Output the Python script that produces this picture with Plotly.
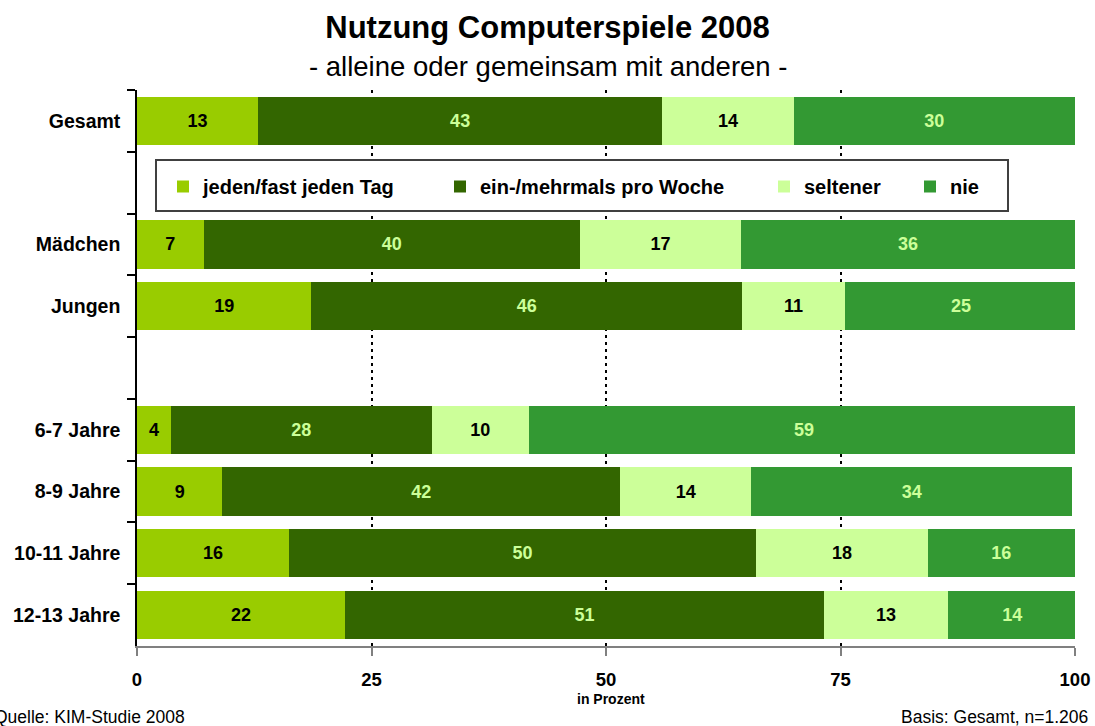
import plotly.graph_objects as go

# ---- data ----
categories = ["Gesamt", " ", "Mädchen", "Jungen", "  ",
              "6-7 Jahre", "8-9 Jahre", "10-11 Jahre", "12-13 Jahre"]
series_names = ["jeden/fast jeden Tag", "ein-/mehrmals pro Woche", "seltener", "nie"]
taeglich = [12.9, None, 7.1, 18.6, None, 3.6, 9.1, 16.2, 22.2]
woechentlich = [43.1, None, 40.1, 45.9, None, 27.8, 42.4, 49.8, 51.0]
seltener = [14.0, None, 17.2, 11.0, None, 10.4, 14.0, 18.3, 13.3]
nie = [30.0, None, 35.6, 24.7, None, 58.6, 34.2, 15.7, 13.6]
x_ticks = [0, 25, 50, 75, 100]

series_values = [taeglich, woechentlich, seltener, nie]
colors = ["#99CC00", "#336600", "#CCFF99", "#339933"]
text_colors = ["#000000", "#CCFF99", "#000000", "#CCFF99"]

FONT = "Liberation Sans, Arial, sans-serif"

fig = go.Figure()
legend_ids = ["legend", "legend2", "legend3", "legend4"]
for name, vals, col, tcol, lid in zip(series_names, series_values, colors, text_colors, legend_ids):
    fig.add_trace(go.Bar(
        name=name, y=categories, x=vals, orientation="h",
        marker=dict(color=col, line=dict(width=0)),
        texttemplate="%{x:.0f}", textposition="inside", insidetextanchor="middle",
        textangle=0, constraintext="none",
        textfont=dict(family=FONT, size=18, color=tcol, weight="bold"),
        hoverinfo="skip", legend=lid,
    ))

# plot area geometry in pixels: left 137, right 1075, top 90, bottom 646
L, R, T, B = 137, 1075, 90, 646
W, H = R - L, B - T
def px(xp):
    return (xp - L) / W
def py(yp):
    return (B - yp) / H

legend_style = dict(orientation="h", bgcolor="rgba(0,0,0,0)", borderwidth=0,
                    font=dict(family=FONT, size=20, color="#000000", weight="bold"),
                    yanchor="middle", xanchor="left", y=py(186.5))
text_starts = [203, 480, 804, 950]
layout_legends = {}
for lid, ts in zip(legend_ids, text_starts):
    layout_legends[lid] = dict(legend_style, x=px(ts - 40))

fig.update_layout(
    width=1095, height=726,
    margin=dict(l=L, r=1095 - R, t=T, b=726 - B, autoexpand=False),
    paper_bgcolor="white", plot_bgcolor="white",
    barmode="stack", bargap=0.22,
    showlegend=True,
    font=dict(family=FONT, color="#000000"),
    title=dict(text="Nutzung Computerspiele 2008", x=0.5, xref="container", xanchor="center",
               y=1 - 27 / 726, yref="container", yanchor="middle",
               font=dict(family=FONT, size=31, color="#000000", weight="bold")),
    **layout_legends,
)

fig.update_xaxes(
    range=[0, 100], tickvals=x_ticks, ticktext=[str(v) for v in x_ticks],
    ticks="outside", ticklen=8, tickwidth=2, tickcolor="#808080",
    showline=True, linecolor="#808080", linewidth=2,
    showgrid=True, gridcolor="#000000", gridwidth=2, griddash="3px,4px",
    zeroline=False, ticklabelstandoff=8, automargin=False,
    tickfont=dict(family=FONT, size=18.5, color="#000000", weight="bold"),
    fixedrange=True,
)
fig.update_yaxes(
    type="category", categoryorder="array", categoryarray=categories,
    autorange="reversed", tickson="boundaries",
    ticks="outside", ticklen=8, tickwidth=1.5, tickcolor="#000000",
    showline=True, linecolor="#000000", linewidth=1.5,
    showgrid=False, zeroline=False, ticklabelstandoff=11, automargin=False,
    tickfont=dict(family=FONT, size=19.5, color="#000000", weight="bold"),
    fixedrange=True,
)

# legend frame
fig.add_shape(type="rect", xref="paper", yref="paper",
              x0=px(156), x1=px(1008), y0=py(211), y1=py(160),
              line=dict(color="#404040", width=2), fillcolor="white", layer="above")

fig.add_annotation(text="- alleine oder gemeinsam mit anderen -", xref="paper", yref="paper",
                   x=px(548), y=py(66), xanchor="center", yanchor="middle", showarrow=False,
                   font=dict(family=FONT, size=27.5, color="#000000"))
fig.add_annotation(text="in Prozent", xref="paper", yref="paper",
                   x=px(611), y=py(699), xanchor="center", yanchor="middle", showarrow=False,
                   font=dict(family=FONT, size=14, color="#000000", weight="bold"))
fig.add_annotation(text="Quelle: KIM-Studie 2008", xref="paper", yref="paper",
                   x=px(-8), y=py(717), xanchor="left", yanchor="middle", showarrow=False,
                   font=dict(family=FONT, size=17.5, color="#000000"))
fig.add_annotation(text="Basis: Gesamt, n=1.206", xref="paper", yref="paper",
                   x=px(1090), y=py(717), xanchor="right", yanchor="middle", showarrow=False,
                   font=dict(family=FONT, size=17.5, color="#000000"))

fig.write_html("out.html", config={"displayModeBar": False},
               post_script="document.body.style.margin='0';document.body.style.overflow='hidden';")
